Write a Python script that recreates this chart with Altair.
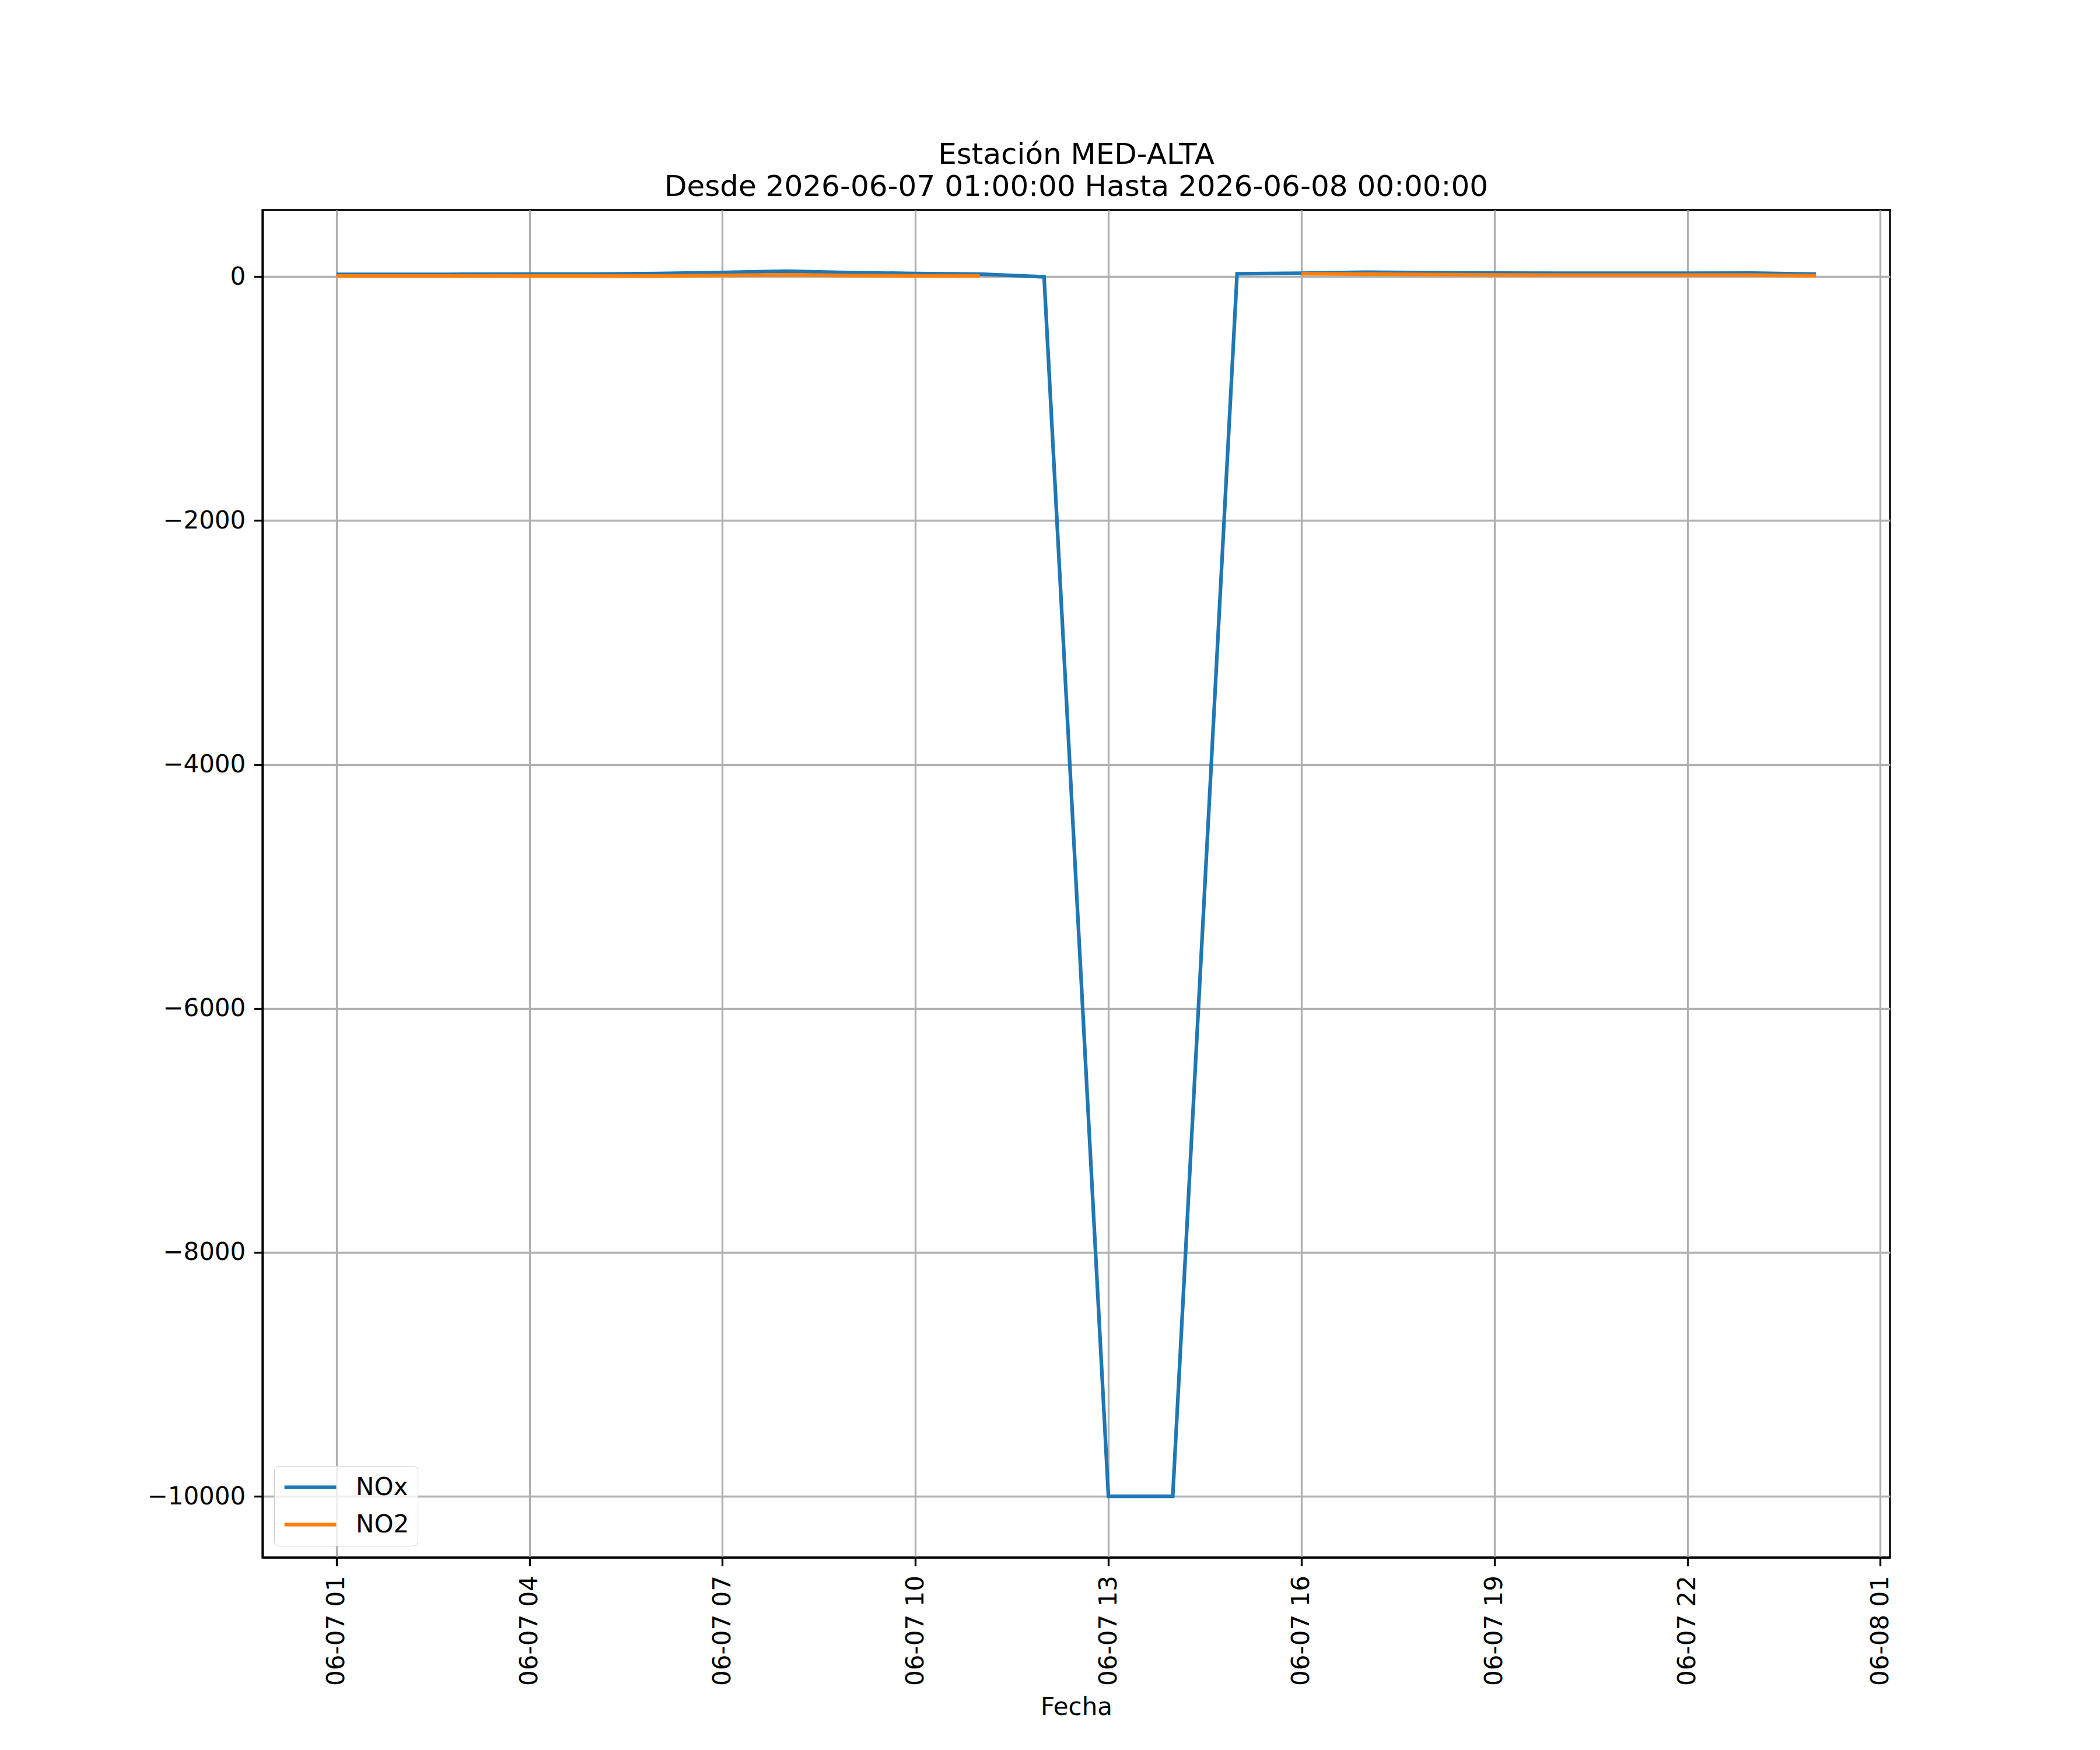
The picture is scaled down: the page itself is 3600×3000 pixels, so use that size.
import altair as alt
import pandas as pd

# ---- data ----
fechas = [
    "2026-06-07T01:00:00", "2026-06-07T02:00:00", "2026-06-07T03:00:00",
    "2026-06-07T04:00:00", "2026-06-07T05:00:00", "2026-06-07T06:00:00",
    "2026-06-07T07:00:00", "2026-06-07T08:00:00", "2026-06-07T09:00:00",
    "2026-06-07T10:00:00", "2026-06-07T11:00:00", "2026-06-07T12:00:00",
    "2026-06-07T13:00:00", "2026-06-07T14:00:00", "2026-06-07T15:00:00",
    "2026-06-07T16:00:00", "2026-06-07T17:00:00", "2026-06-07T18:00:00",
    "2026-06-07T19:00:00", "2026-06-07T20:00:00", "2026-06-07T21:00:00",
    "2026-06-07T22:00:00", "2026-06-07T23:00:00", "2026-06-08T00:00:00",
]
nox = [18, 18, 19, 20, 21, 25, 34, 44, 33, 25, 20, -2,
       -10000, -10000, 23, 28, 36, 33, 29, 28, 28, 28, 29, 20]
no2 = [5.5, 5.5, 5.5, 5.5, 5.5, 5, 10, 15, 8, 6, 6, None,
       None, None, None, 23, 21, 17, 13.5, 12, 12, 12, 12, 7]

series = ["NOx", "NO2"]
colors = ["#1f77b4", "#ff7f0e"]

# tick marks on the x axis (day, hour)
x_ticks = [(7, 1), (7, 4), (7, 7), (7, 10), (7, 13), (7, 16), (7, 19), (7, 22), (8, 1)]
y_ticks = [0, -2000, -4000, -6000, -8000, -10000]
y_domain = [-10502, 546]
x_domain = [(6, 23, 51), (8, 1, 9)]

title_lines = ["Estación MED-ALTA", "Desde 2026-06-07 01:00:00 Hasta 2026-06-08 00:00:00"]
x_title = "Fecha"

# ---- build table ----
rows = []
for name, vals in zip(series, [nox, no2]):
    for f, v in zip(fechas, vals):
        rows.append({"fecha": f, "valor": v, "serie": name})
df = pd.DataFrame(rows)

FONT = "DejaVu Sans"
LW = 3.3

x_values = [alt.DateTime(year=2026, month=6, date=d, hours=h) for d, h in x_ticks]
x_dom = [alt.DateTime(year=2026, month=6, date=d, hours=h, minutes=m) for d, h, m in x_domain]

chart = alt.Chart(df).mark_line(
    strokeWidth=6.25, invalid="break-paths-filter-domains"
).encode(
    x=alt.X(
        "fecha:T",
        scale=alt.Scale(domain=x_dom),
        axis=alt.Axis(
            values=x_values,
            format="%m-%d %H",
            labelAngle=270,
            labelFontSize=42,
            labelPadding=16,
            labelFlush=False,
            labelOverlap=False,
            labelLimit=600,
            tickSize=14.6,
            title=x_title,
            titleFontSize=42,
            titlePadding=36,
            titleFontWeight="normal",
        ),
    ),
    y=alt.Y(
        "valor:Q",
        scale=alt.Scale(domain=y_domain, nice=False, zero=False),
        axis=alt.Axis(
            values=y_ticks,
            format="d",
            labelFontSize=42,
            labelPadding=14.6,
            tickSize=14.6,
            title="",
        ),
    ),
    color=alt.Color(
        "serie:N",
        scale=alt.Scale(domain=series, range=colors),
        sort=series,
        legend=alt.Legend(
            title=None,
            orient="bottom-left",
            offset=20,
            fillColor="rgba(255,255,255,0.8)",
            strokeColor="#cccccc",
            cornerRadius=8,
            padding=14,
            symbolType="stroke",
            symbolSize=7900,
            symbolStrokeWidth=6.25,
            labelFontSize=42,
            labelFont=FONT,
            labelColor="black",
            labelOffset=30,
            clipHeight=45,
            rowPadding=19,
        ),
    ),
    order=alt.Order("serie:N", sort="descending"),
).properties(
    width=2790,
    height=2310,
    autosize=alt.AutoSizeParams(type="none"),
    padding={"left": 442, "top": 352, "right": 340, "bottom": 300},
    title=alt.TitleParams(
        text=title_lines,
        fontSize=50,
        font=FONT,
        fontWeight="normal",
        color="black",
        anchor="middle",
        lineHeight=55,
        offset=14,
    ),
).configure_view(
    stroke="black", strokeWidth=LW
).configure_axis(
    labelFont=FONT,
    titleFont=FONT,
    labelColor="black",
    titleColor="black",
    domainColor="black",
    domainWidth=LW,
    tickColor="black",
    tickWidth=LW,
    grid=True,
    gridColor="#b0b0b0",
    gridWidth=LW,
)

chart.save("out.html", embed_options={"renderer": "svg", "actions": False})
